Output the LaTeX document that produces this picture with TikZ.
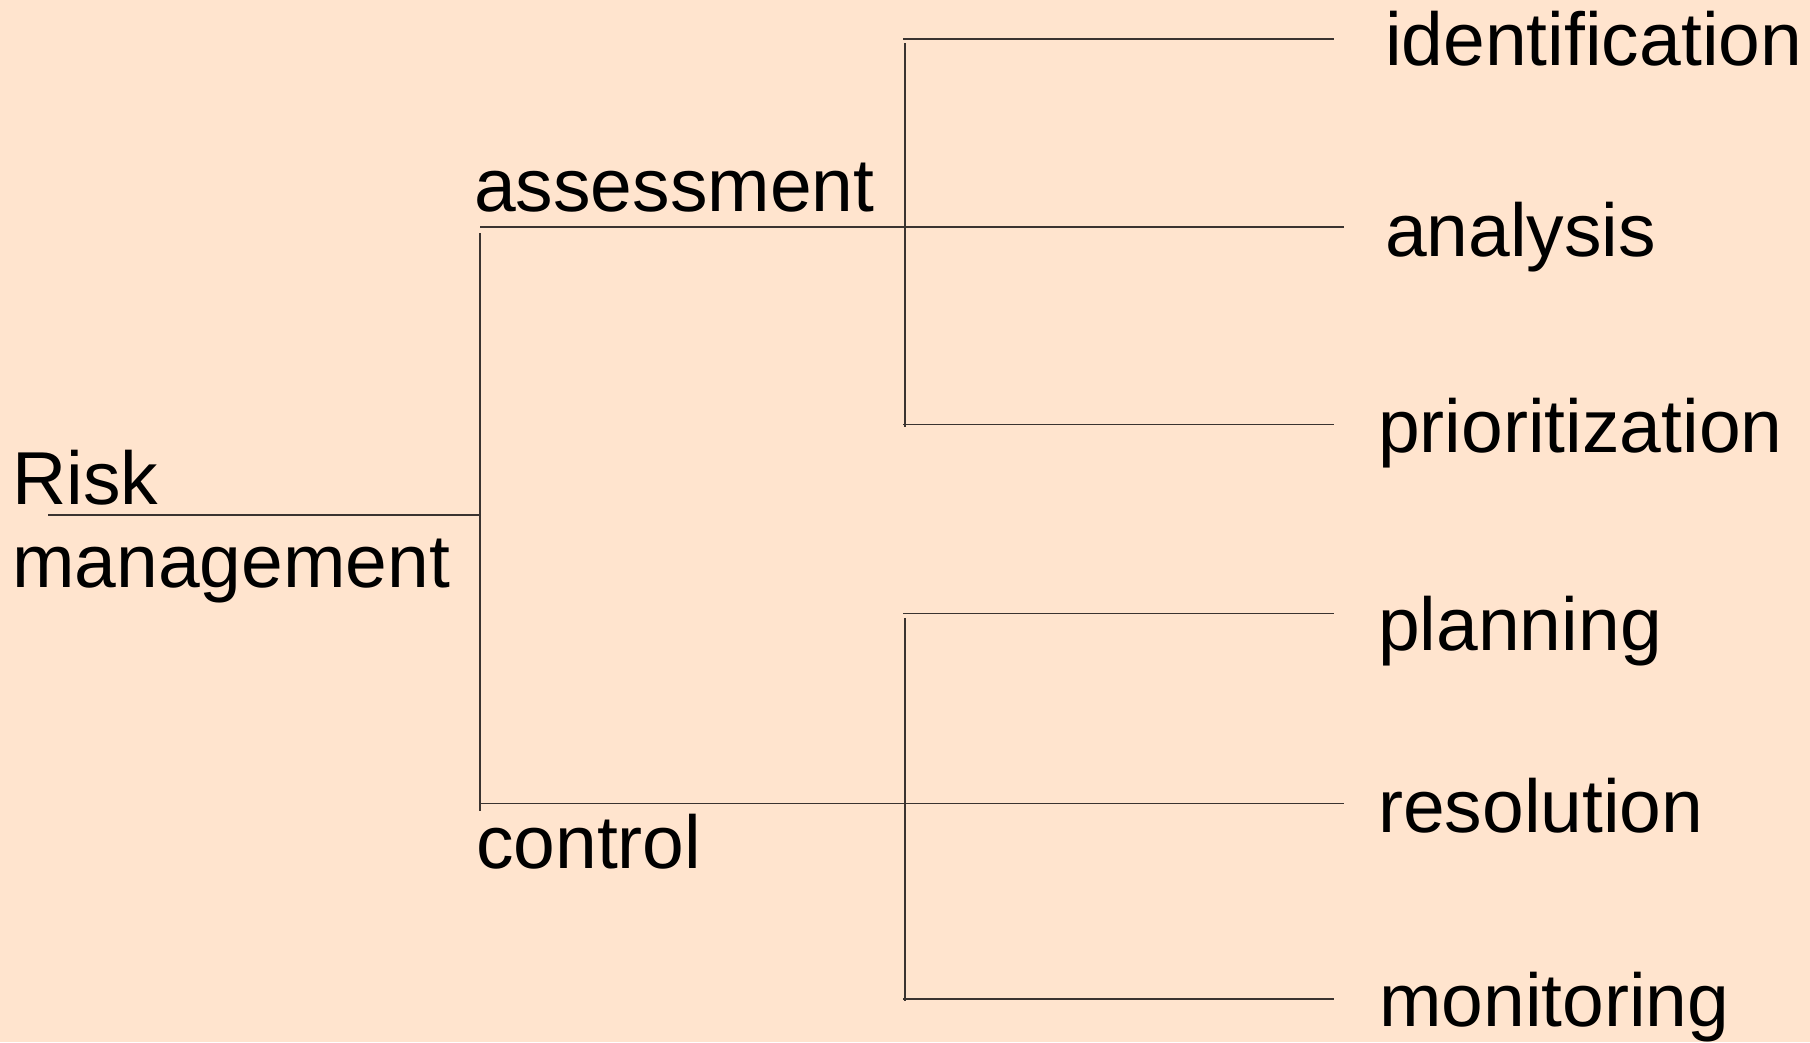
\documentclass[tikz,border=0pt]{standalone}
\usepackage{fontspec}
\setmainfont{Liberation Sans}
\definecolor{bgpeach}{HTML}{FFE4CE}
\definecolor{linegray}{HTML}{3A3330}
\begin{document}
\begin{tikzpicture}[x=1pt,y=-1pt,
  lbl/.style={anchor=base west,inner sep=0pt,font=\fontsize{75}{83}\selectfont},
  branch/.style={draw=linegray,line width=1.4pt}]
\fill[bgpeach] (0,0) rectangle (1810,1042);
\useasboundingbox (0,0) rectangle (1810,1042);
% labels
\node[lbl,align=left] (risk) at (12,587) {Risk\\management};
\node[lbl] (assess) at (474,211) {assessment};
\node[lbl] (control) at (476,868) {control};
\node[lbl] (ident) at (1385,65) {identification};
\node[lbl] (anal) at (1385,256) {analysis};
\node[lbl] (prio) at (1378,452) {prioritization};
\node[lbl] (plan) at (1378,650) {planning};
\node[lbl] (resol) at (1378,832) {resolution};
\node[lbl] (monit) at (1379,1026) {monitoring};
% junction coordinates
\coordinate (r0) at (48,515);
\coordinate (r1) at (480,515);
\coordinate (t1a) at (480,233);
\coordinate (t1b) at (480,811);
\coordinate (a0) at (480,227);
\coordinate (a1) at (1344,227);
\coordinate (c0) at (480,803.5);
\coordinate (c1) at (1344,803.5);
\coordinate (t2a) at (905,43);
\coordinate (t2b) at (905,427);
\coordinate (i0) at (903,39);
\coordinate (i1) at (1334,39);
\coordinate (p0) at (903,424.5);
\coordinate (p1) at (1334,424.5);
\coordinate (t3a) at (905,618);
\coordinate (t3b) at (905,1001);
\coordinate (l0) at (903,613.5);
\coordinate (l1) at (1334,613.5);
\coordinate (m0) at (903,999);
\coordinate (m1) at (1334,999);
% connectors
\draw[branch] (r0) -- (r1);
\draw[branch] (t1a) -- (t1b);
\draw[branch] (a0) -- (a1);
\draw[branch] (c0) -- (c1);
\draw[branch] (t2a) -- (t2b);
\draw[branch] (i0) -- (i1);
\draw[branch] (p0) -- (p1);
\draw[branch] (t3a) -- (t3b);
\draw[branch] (l0) -- (l1);
\draw[branch] (m0) -- (m1);
\end{tikzpicture}
\end{document}
